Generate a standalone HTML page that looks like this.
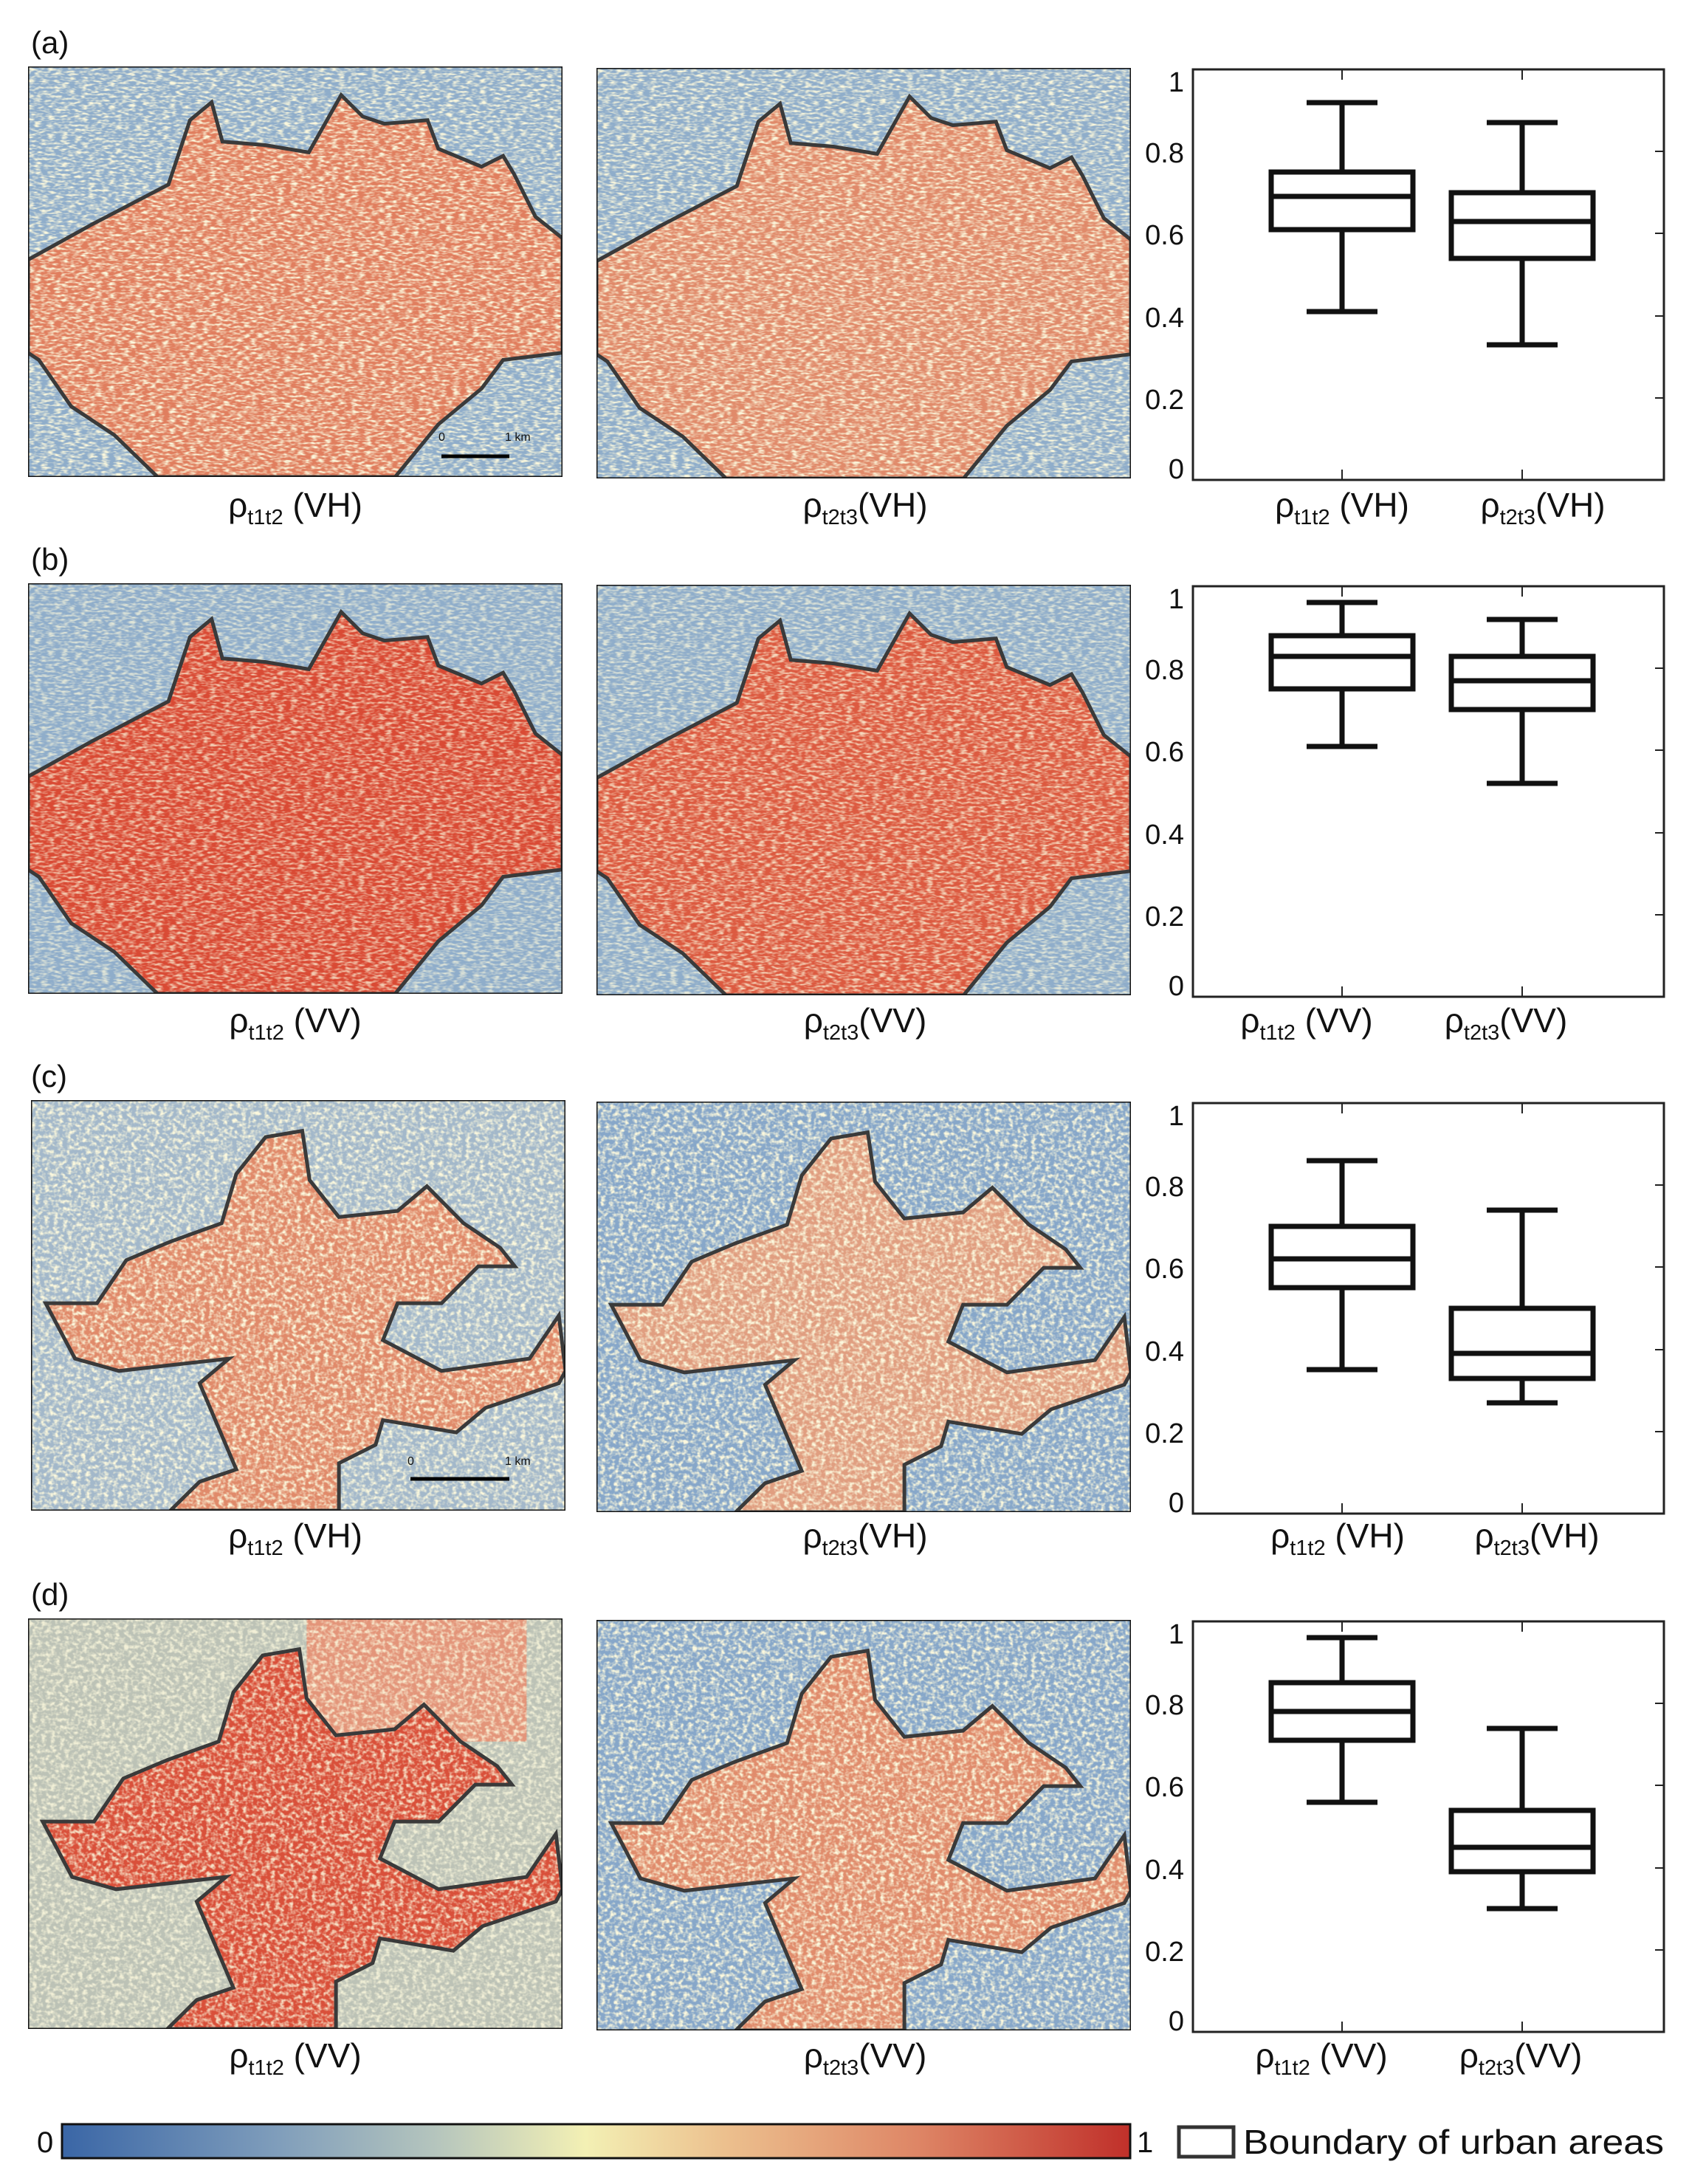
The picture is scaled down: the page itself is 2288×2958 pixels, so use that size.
<!DOCTYPE html>
<html><head><meta charset="utf-8"><style>
html,body{margin:0;padding:0;background:#fff}
svg{display:block}
text{font-family:"Liberation Sans",sans-serif;fill:#111}
</style></head><body>
<svg width="2288" height="2958" viewBox="0 0 2288 2958" xmlns="http://www.w3.org/2000/svg">
<defs>
<filter id="nz" x="0" y="0" width="100%" height="100%">
<feTurbulence type="fractalNoise" baseFrequency="0.16" numOctaves="2" seed="3"/>
<feColorMatrix type="matrix" values="0 0 0 0 0.97  0 0 0 0 0.94  0 0 0 0 0.72  2.8 0 0 0 -1.15"/>
</filter>
<linearGradient id="cb" x1="0" x2="1" y1="0" y2="0">
<stop offset="0" stop-color="#3a66a6"/><stop offset="0.2" stop-color="#7f9dbb"/>
<stop offset="0.35" stop-color="#b5c5bd"/><stop offset="0.49" stop-color="#f3f0b4"/>
<stop offset="0.62" stop-color="#ecc08e"/><stop offset="0.8" stop-color="#de8666"/>
<stop offset="1" stop-color="#c0302a"/></linearGradient>
</defs>

<text x="42" y="72" font-size="42">(a)</text>
<text x="42" y="772" font-size="42">(b)</text>
<text x="42" y="1472" font-size="42">(c)</text>
<text x="42" y="2174" font-size="42">(d)</text>

<!-- ROW A -->
<svg x="38" y="90" width="724" height="556" viewBox="0 0 495 1147" preserveAspectRatio="none">
<rect width="495" height="1147" fill="#8fadca"/>
<polygon points="0,540 60,440 130,330 150,150 170,100 180,210 220,220 260,240 290,80 310,140 330,160 370,150 380,230 420,280 440,250 450,300 470,420 495,480 495,800 440,820 420,900 400,950 380,1000 340,1147 120,1147 80,1030 40,950 10,820 0,800" fill="#e07e5e"/>
<rect width="495" height="1147" filter="url(#nz)"/>
<polygon points="0,540 60,440 130,330 150,150 170,100 180,210 220,220 260,240 290,80 310,140 330,160 370,150 380,230 420,280 440,250 450,300 470,420 495,480 495,800 440,820 420,900 400,950 380,1000 340,1147 120,1147 80,1030 40,950 10,820 0,800" fill="none" stroke="#3a3a3a" stroke-width="5" vector-effect="non-scaling-stroke"/>
<rect width="495" height="1147" fill="none" stroke="#111" stroke-width="3" vector-effect="non-scaling-stroke"/>
</svg>
<line x1="598" y1="618" x2="690" y2="618" stroke="#000" stroke-width="5"/>
<text x="594" y="597" font-size="16">0</text><text x="684" y="597" font-size="16">1 km</text>
<svg x="808" y="92" width="724" height="556" viewBox="0 0 495 1147" preserveAspectRatio="none">
<rect width="495" height="1147" fill="#8fadca"/>
<polygon points="0,540 60,440 130,330 150,150 170,100 180,210 220,220 260,240 290,80 310,140 330,160 370,150 380,230 420,280 440,250 450,300 470,420 495,480 495,800 440,820 420,900 400,950 380,1000 340,1147 120,1147 80,1030 40,950 10,820 0,800" fill="#e08a6a"/>
<rect width="495" height="1147" filter="url(#nz)"/>
<polygon points="0,540 60,440 130,330 150,150 170,100 180,210 220,220 260,240 290,80 310,140 330,160 370,150 380,230 420,280 440,250 450,300 470,420 495,480 495,800 440,820 420,900 400,950 380,1000 340,1147 120,1147 80,1030 40,950 10,820 0,800" fill="none" stroke="#3a3a3a" stroke-width="5" vector-effect="non-scaling-stroke"/>
<rect width="495" height="1147" fill="none" stroke="#111" stroke-width="3" vector-effect="non-scaling-stroke"/>
</svg>

<!-- ROW B -->
<svg x="38" y="790" width="724" height="556" viewBox="0 0 495 1147" preserveAspectRatio="none">
<rect width="495" height="1147" fill="#8fadca"/>
<polygon points="0,540 60,440 130,330 150,150 170,100 180,210 220,220 260,240 290,80 310,140 330,160 370,150 380,230 420,280 440,250 450,300 470,420 495,480 495,800 440,820 420,900 400,950 380,1000 340,1147 120,1147 80,1030 40,950 10,820 0,800" fill="#d94a34"/>
<rect width="495" height="1147" filter="url(#nz)" opacity="0.75"/>
<polygon points="0,540 60,440 130,330 150,150 170,100 180,210 220,220 260,240 290,80 310,140 330,160 370,150 380,230 420,280 440,250 450,300 470,420 495,480 495,800 440,820 420,900 400,950 380,1000 340,1147 120,1147 80,1030 40,950 10,820 0,800" fill="none" stroke="#3a3a3a" stroke-width="5" vector-effect="non-scaling-stroke"/>
<rect width="495" height="1147" fill="none" stroke="#111" stroke-width="3" vector-effect="non-scaling-stroke"/>
</svg>
<svg x="808" y="792" width="724" height="556" viewBox="0 0 495 1147" preserveAspectRatio="none">
<rect width="495" height="1147" fill="#8fadca"/>
<polygon points="0,540 60,440 130,330 150,150 170,100 180,210 220,220 260,240 290,80 310,140 330,160 370,150 380,230 420,280 440,250 450,300 470,420 495,480 495,800 440,820 420,900 400,950 380,1000 340,1147 120,1147 80,1030 40,950 10,820 0,800" fill="#dc5a40"/>
<rect width="495" height="1147" filter="url(#nz)" opacity="0.8"/>
<polygon points="0,540 60,440 130,330 150,150 170,100 180,210 220,220 260,240 290,80 310,140 330,160 370,150 380,230 420,280 440,250 450,300 470,420 495,480 495,800 440,820 420,900 400,950 380,1000 340,1147 120,1147 80,1030 40,950 10,820 0,800" fill="none" stroke="#3a3a3a" stroke-width="5" vector-effect="non-scaling-stroke"/>
<rect width="495" height="1147" fill="none" stroke="#111" stroke-width="3" vector-effect="non-scaling-stroke"/>
</svg>

<!-- ROW C -->
<svg x="42" y="1490" width="724" height="556" viewBox="0 0 729 667" preserveAspectRatio="none">
<rect width="729" height="667" fill="#a3b8ca"/>
<polygon points="20,330 90,330 130,260 190,230 260,200 280,120 320,60 370,50 380,130 420,190 500,180 540,140 590,200 640,240 660,270 610,270 560,330 500,330 480,390 560,440 680,420 720,350 729,440 720,460 620,500 580,540 480,520 470,560 420,590 420,667 190,667 230,620 280,600 230,460 270,420 120,440 60,420" fill="#e08a6a"/>
<rect width="729" height="667" filter="url(#nz)"/>
<polygon points="20,330 90,330 130,260 190,230 260,200 280,120 320,60 370,50 380,130 420,190 500,180 540,140 590,200 640,240 660,270 610,270 560,330 500,330 480,390 560,440 680,420 720,350 729,440 720,460 620,500 580,540 480,520 470,560 420,590 420,667 190,667 230,620 280,600 230,460 270,420 120,440 60,420" fill="none" stroke="#3a3a3a" stroke-width="5" vector-effect="non-scaling-stroke"/>
<rect width="729" height="667" fill="none" stroke="#111" stroke-width="3" vector-effect="non-scaling-stroke"/>
</svg>
<line x1="556" y1="2003" x2="690" y2="2003" stroke="#000" stroke-width="5"/>
<text x="552" y="1984" font-size="16">0</text><text x="684" y="1984" font-size="16">1 km</text>
<svg x="808" y="1492" width="724" height="556" viewBox="0 0 729 667" preserveAspectRatio="none">
<rect width="729" height="667" fill="#87a7c9"/>
<polygon points="20,330 90,330 130,260 190,230 260,200 280,120 320,60 370,50 380,130 420,190 500,180 540,140 590,200 640,240 660,270 610,270 560,330 500,330 480,390 560,440 680,420 720,350 729,440 720,460 620,500 580,540 480,520 470,560 420,590 420,667 190,667 230,620 280,600 230,460 270,420 120,440 60,420" fill="#e09e80"/>
<rect width="729" height="667" filter="url(#nz)"/>
<polygon points="20,330 90,330 130,260 190,230 260,200 280,120 320,60 370,50 380,130 420,190 500,180 540,140 590,200 640,240 660,270 610,270 560,330 500,330 480,390 560,440 680,420 720,350 729,440 720,460 620,500 580,540 480,520 470,560 420,590 420,667 190,667 230,620 280,600 230,460 270,420 120,440 60,420" fill="none" stroke="#3a3a3a" stroke-width="5" vector-effect="non-scaling-stroke"/>
<rect width="729" height="667" fill="none" stroke="#111" stroke-width="3" vector-effect="non-scaling-stroke"/>
</svg>

<!-- ROW D -->
<svg x="38" y="2192" width="724" height="556" viewBox="0 0 729 667" preserveAspectRatio="none">
<rect width="729" height="667" fill="#bcc2b6"/>
<rect x="380" y="0" width="300" height="200" fill="#e3957a"/>
<polygon points="20,330 90,330 130,260 190,230 260,200 280,120 320,60 370,50 380,130 420,190 500,180 540,140 590,200 640,240 660,270 610,270 560,330 500,330 480,390 560,440 680,420 720,350 729,440 720,460 620,500 580,540 480,520 470,560 420,590 420,667 190,667 230,620 280,600 230,460 270,420 120,440 60,420" fill="#d9503a"/>
<rect width="729" height="667" filter="url(#nz)" opacity="0.85"/>
<polygon points="20,330 90,330 130,260 190,230 260,200 280,120 320,60 370,50 380,130 420,190 500,180 540,140 590,200 640,240 660,270 610,270 560,330 500,330 480,390 560,440 680,420 720,350 729,440 720,460 620,500 580,540 480,520 470,560 420,590 420,667 190,667 230,620 280,600 230,460 270,420 120,440 60,420" fill="none" stroke="#3a3a3a" stroke-width="5" vector-effect="non-scaling-stroke"/>
<rect width="729" height="667" fill="none" stroke="#111" stroke-width="3" vector-effect="non-scaling-stroke"/>
</svg>
<svg x="808" y="2194" width="724" height="556" viewBox="0 0 729 667" preserveAspectRatio="none">
<rect width="729" height="667" fill="#87a7c9"/>
<polygon points="20,330 90,330 130,260 190,230 260,200 280,120 320,60 370,50 380,130 420,190 500,180 540,140 590,200 640,240 660,270 610,270 560,330 500,330 480,390 560,440 680,420 720,350 729,440 720,460 620,500 580,540 480,520 470,560 420,590 420,667 190,667 230,620 280,600 230,460 270,420 120,440 60,420" fill="#e08c6c"/>
<rect width="729" height="667" filter="url(#nz)"/>
<polygon points="20,330 90,330 130,260 190,230 260,200 280,120 320,60 370,50 380,130 420,190 500,180 540,140 590,200 640,240 660,270 610,270 560,330 500,330 480,390 560,440 680,420 720,350 729,440 720,460 620,500 580,540 480,520 470,560 420,590 420,667 190,667 230,620 280,600 230,460 270,420 120,440 60,420" fill="none" stroke="#3a3a3a" stroke-width="5" vector-effect="non-scaling-stroke"/>
<rect width="729" height="667" fill="none" stroke="#111" stroke-width="3" vector-effect="non-scaling-stroke"/>
</svg>

<!-- BOX PLOT AXES -->
<g fill="none" stroke="#222" stroke-width="3">
<rect x="1616" y="94" width="638" height="556"/>
<rect x="1616" y="794" width="638" height="556"/>
<rect x="1616" y="1494" width="638" height="556"/>
<rect x="1616" y="2196" width="638" height="556"/>
</g>
<g stroke="#222" stroke-width="2">
<path d="M1818 94v14M2062 94v14M1818 650v-14M2062 650v-14M2254 205h-12M2254 316h-12M2254 428h-12M2254 539h-12"/>
<path d="M1818 794v14M2062 794v14M1818 1350v-14M2062 1350v-14M2254 905h-12M2254 1016h-12M2254 1128h-12M2254 1239h-12"/>
<path d="M1818 1494v14M2062 1494v14M1818 2050v-14M2062 2050v-14M2254 1605h-12M2254 1716h-12M2254 1828h-12M2254 1939h-12"/>
<path d="M1818 2196v14M2062 2196v14M1818 2752v-14M2062 2752v-14M2254 2307h-12M2254 2418h-12M2254 2530h-12M2254 2641h-12"/>
</g>
<g font-size="38" text-anchor="end">
<text x="1604" y="124">1</text><text x="1604" y="220">0.8</text><text x="1604" y="331">0.6</text><text x="1604" y="443">0.4</text><text x="1604" y="554">0.2</text><text x="1604" y="648">0</text>
<text x="1604" y="824">1</text><text x="1604" y="920">0.8</text><text x="1604" y="1031">0.6</text><text x="1604" y="1143">0.4</text><text x="1604" y="1254">0.2</text><text x="1604" y="1348">0</text>
<text x="1604" y="1524">1</text><text x="1604" y="1620">0.8</text><text x="1604" y="1731">0.6</text><text x="1604" y="1843">0.4</text><text x="1604" y="1954">0.2</text><text x="1604" y="2048">0</text>
<text x="1604" y="2226">1</text><text x="1604" y="2322">0.8</text><text x="1604" y="2433">0.6</text><text x="1604" y="2545">0.4</text><text x="1604" y="2656">0.2</text><text x="1604" y="2750">0</text>
</g>
<g fill="none" stroke="#111" stroke-width="7">
<path d="M1818 139V233M1818 311V422M1770 139h96M1770 422h96M1722 266h192M2062 166V261M2062 350V467M2014 166h96M2014 467h96M1966 300h192"/>
<rect x="1722" y="233" width="192" height="78"/><rect x="1966" y="261" width="192" height="89"/>
<path d="M1818 816V861M1818 933V1011M1770 816h96M1770 1011h96M1722 889h192M2062 839V889M2062 961V1061M2014 839h96M2014 1061h96M1966 922h192"/>
<rect x="1722" y="861" width="192" height="72"/><rect x="1966" y="889" width="192" height="72"/>
<path d="M1818 1572V1661M1818 1744V1855M1770 1572h96M1770 1855h96M1722 1705h192M2062 1639V1772M2062 1867V1900M2014 1639h96M2014 1900h96M1966 1833h192"/>
<rect x="1722" y="1661" width="192" height="83"/><rect x="1966" y="1772" width="192" height="95"/>
<path d="M1818 2218V2279M1818 2357V2441M1770 2218h96M1770 2441h96M1722 2318h192M2062 2341V2452M2062 2535V2585M2014 2341h96M2014 2585h96M1966 2502h192"/>
<rect x="1722" y="2279" width="192" height="78"/><rect x="1966" y="2452" width="192" height="83"/>
</g>

<g font-size="46" text-anchor="middle">
<text x="400" y="700">ρ<tspan font-size="29" dy="10">t1t2</tspan><tspan dy="-10"> (VH)</tspan></text>
<text x="1172" y="700">ρ<tspan font-size="29" dy="10">t2t3</tspan><tspan dy="-10">(VH)</tspan></text>
<text x="1818" y="700">ρ<tspan font-size="29" dy="10">t1t2</tspan><tspan dy="-10"> (VH)</tspan></text>
<text x="2090" y="700">ρ<tspan font-size="29" dy="10">t2t3</tspan><tspan dy="-10">(VH)</tspan></text>

<text x="400" y="1398">ρ<tspan font-size="29" dy="10">t1t2</tspan><tspan dy="-10"> (VV)</tspan></text>
<text x="1172" y="1398">ρ<tspan font-size="29" dy="10">t2t3</tspan><tspan dy="-10">(VV)</tspan></text>
<text x="1770" y="1398">ρ<tspan font-size="29" dy="10">t1t2</tspan><tspan dy="-10"> (VV)</tspan></text>
<text x="2040" y="1398">ρ<tspan font-size="29" dy="10">t2t3</tspan><tspan dy="-10">(VV)</tspan></text>

<text x="400" y="2096">ρ<tspan font-size="29" dy="10">t1t2</tspan><tspan dy="-10"> (VH)</tspan></text>
<text x="1172" y="2096">ρ<tspan font-size="29" dy="10">t2t3</tspan><tspan dy="-10">(VH)</tspan></text>
<text x="1812" y="2096">ρ<tspan font-size="29" dy="10">t1t2</tspan><tspan dy="-10"> (VH)</tspan></text>
<text x="2082" y="2096">ρ<tspan font-size="29" dy="10">t2t3</tspan><tspan dy="-10">(VH)</tspan></text>

<text x="400" y="2800">ρ<tspan font-size="29" dy="10">t1t2</tspan><tspan dy="-10"> (VV)</tspan></text>
<text x="1172" y="2800">ρ<tspan font-size="29" dy="10">t2t3</tspan><tspan dy="-10">(VV)</tspan></text>
<text x="1790" y="2800">ρ<tspan font-size="29" dy="10">t1t2</tspan><tspan dy="-10"> (VV)</tspan></text>
<text x="2060" y="2800">ρ<tspan font-size="29" dy="10">t2t3</tspan><tspan dy="-10">(VV)</tspan></text>
</g>

<rect x="84" y="2877" width="1447" height="46" fill="url(#cb)" stroke="#111" stroke-width="3"/>
<text x="50" y="2915" font-size="40">0</text>
<text x="1540" y="2915" font-size="40">1</text>
<rect x="1597" y="2881" width="74" height="40" fill="#fff" stroke="#333" stroke-width="5"/>
<text x="1684" y="2917" font-size="46" textLength="570" lengthAdjust="spacingAndGlyphs">Boundary of urban areas</text>
</svg>
</body></html>
